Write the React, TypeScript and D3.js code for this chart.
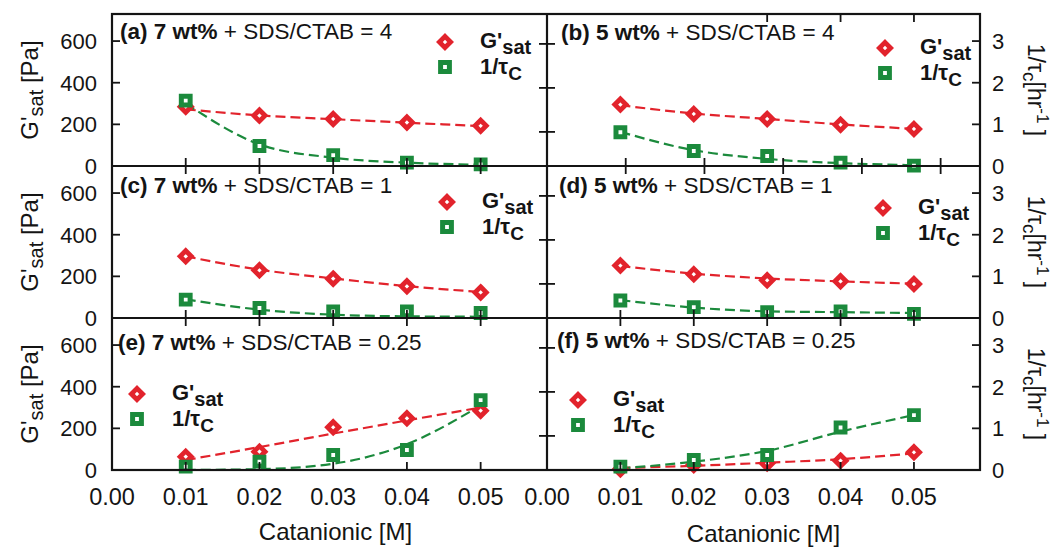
import React from "react";
import * as d3 from "d3";

// Catanionic concentration [M] for every measured point
const concentration = [0.01, 0.02, 0.03, 0.04, 0.05];
const xTickValues = [0, 0.01, 0.02, 0.03, 0.04, 0.05];
const xTickLabels = ["0.00", "0.01", "0.02", "0.03", "0.04", "0.05"];
const gsatTicks = [0, 200, 400, 600];
const rateTicks = [0, 1, 2, 3];
const innerTicks = [200, 400, 600];

// (a) 7 wt% + SDS/CTAB = 4
const gsatA = [285, 242, 226, 209, 193];
const rateA = [1.57, 0.48, 0.26, 0.08, 0.04];
const gsatFitA = [272, 243, 225, 208, 192];
const rateFitA = [1.5, 0.52, 0.2, 0.08, 0.03];

// (b) 5 wt% + SDS/CTAB = 4
const gsatB = [295, 250, 226, 198, 178];
const rateB = [0.81, 0.36, 0.24, 0.08, 0.01];
const gsatFitB = [292, 252, 226, 200, 178];
const rateFitB = [0.82, 0.38, 0.17, 0.07, 0.02];

// (c) 7 wt% + SDS/CTAB = 1
const gsatC = [296, 229, 189, 152, 123];
const rateC = [0.44, 0.24, 0.16, 0.16, 0.12];
const gsatFitC = [296, 232, 190, 153, 125];
const rateFitC = [0.45, 0.2, 0.08, 0.04, 0.03];

// (d) 5 wt% + SDS/CTAB = 1
const gsatD = [252, 210, 181, 176, 163];
const rateD = [0.42, 0.26, 0.14, 0.16, 0.1];
const gsatFitD = [250, 213, 190, 176, 165];
const rateFitD = [0.43, 0.25, 0.16, 0.14, 0.12];

// (e) 7 wt% + SDS/CTAB = 0.25
const gsatE = [64, 88, 205, 248, 285];
const rateE = [0.08, 0.2, 0.36, 0.48, 1.68];
const gsatFitE = [48, 110, 175, 238, 300];
const rateFitE = [0.0, 0.02, 0.15, 0.62, 1.55];

// (f) 5 wt% + SDS/CTAB = 0.25
const gsatF = [4, 24, 32, 45, 85];
const rateF = [0.08, 0.24, 0.36, 1.02, 1.32];
const gsatFitF = [10, 20, 35, 52, 80];
const rateFitF = [0.04, 0.2, 0.46, 0.92, 1.32];

const panels = [
  { label: "(a) 7 wt%", ratio: "4", col: 0, row: 0, gsat: gsatA, rate: rateA, gsatFit: gsatFitA, rateFit: rateFitA },
  { label: "(b) 5 wt%", ratio: "4", col: 1, row: 0, gsat: gsatB, rate: rateB, gsatFit: gsatFitB, rateFit: rateFitB },
  { label: "(c) 7 wt%", ratio: "1", col: 0, row: 1, gsat: gsatC, rate: rateC, gsatFit: gsatFitC, rateFit: rateFitC },
  { label: "(d) 5 wt%", ratio: "1", col: 1, row: 1, gsat: gsatD, rate: rateD, gsatFit: gsatFitD, rateFit: rateFitD },
  { label: "(e) 7 wt%", ratio: "0.25", col: 0, row: 2, gsat: gsatE, rate: rateE, gsatFit: gsatFitE, rateFit: rateFitE },
  { label: "(f) 5 wt%", ratio: "0.25", col: 1, row: 2, gsat: gsatF, rate: rateF, gsatFit: gsatFitF, rateFit: rateFitF },
];

// Title / legend placement inside each panel (offsets from the panel's top-left)
const panelLayout = [
  { titleDx: 8, titleDy: 25, legendDx: 333, legendDy: 28 },
  { titleDx: 14, titleDy: 26, legendDx: 338, legendDy: 34 },
  { titleDx: 8, titleDy: 27, legendDx: 335, legendDy: 36 },
  { titleDx: 12, titleDy: 27, legendDx: 336, legendDy: 42 },
  { titleDx: 6, titleDy: 32, legendDx: 25, legendDy: 76 },
  { titleDx: 10, titleDy: 30, legendDx: 31, legendDy: 82 },
];

const W = 1062;
const H = 548;
const LEFT = 112;
const MID = 547;
const RIGHT = 980;
const TOP = 14;
const PANEL_H = 152;
const X_MAX = 0.059;
const GSAT_MAX = 730;
const RATE_MAX = 3.65;

const RED = "#e2232c";
const GREEN = "#1b8a3c";
const INK = "#141414";
const FONT = "'Liberation Sans', Arial, Helvetica, sans-serif";
const TICK = 8;

const diamondPath = (s: number) => `M0,${-s}L${s},0L0,${s}L${-s},0Z`;
const squarePath = (s: number) => `M${-s},${-s}H${s}V${s}H${-s}Z`;

function Diamond({ x, y }: { x: number; y: number }) {
  return (
    <path
      d={diamondPath(5.6)}
      transform={`translate(${x},${y})`}
      fill="white"
      stroke={RED}
      strokeWidth={4.8}
      strokeLinejoin="miter"
    />
  );
}

function Square({ x, y }: { x: number; y: number }) {
  return (
    <path
      d={squarePath(4.4)}
      transform={`translate(${x},${y})`}
      fill="white"
      stroke={GREEN}
      strokeWidth={5}
    />
  );
}

export default function App() {
  const xScales = [
    d3.scaleLinear().domain([0, X_MAX]).range([LEFT, MID]),
    d3.scaleLinear().domain([0, X_MAX]).range([MID, RIGHT]),
  ];
  // the upper right panel carries a slightly stretched set of bottom ticks
  const xTicksB = d3.scaleLinear().domain([0, 0.055]).range([MID, RIGHT]);

  const rows = [0, 1, 2].map((r) => {
    const top = TOP + r * PANEL_H;
    const bottom = top + PANEL_H;
    return {
      top,
      bottom,
      yG: d3.scaleLinear().domain([0, GSAT_MAX]).range([bottom, top]),
      yR: d3.scaleLinear().domain([0, RATE_MAX]).range([bottom, top]),
      yInner: d3.scaleLinear().domain([45, 736]).range([bottom, top]),
    };
  });
  const bottomY = rows[2].bottom;

  const tickLines: React.ReactNode[] = [];
  let tickId = 0;
  const key = () => `t${tickId++}`;

  // x ticks on each horizontal boundary
  rows.forEach((row, r) => {
    [0, 1].forEach((c) => {
      const xs = xScales[c];
      const isLastRow = r === 2;
      xTickValues.slice(1).forEach((v) => {
        const useB = c === 1 && r === 0;
        const px = useB ? xTicksB(v) : xs(v);
        const y = row.bottom;
        tickLines.push(
          <line key={key()} x1={px} x2={px} y1={y - TICK} y2={isLastRow ? y : y + TICK} stroke={INK} strokeWidth={1.8} />
        );
      });
    });
  });
  // top ticks of the upper right panel
  [0.03, 0.04, 0.05].forEach((v) => {
    const px = xScales[1](v);
    tickLines.push(<line key={key()} x1={px} x2={px} y1={TOP} y2={TOP + TICK} stroke={INK} strokeWidth={1.8} />);
  });

  // y ticks: outer left, centre divider, outer right
  rows.forEach((row) => {
    gsatTicks.slice(1).forEach((v) => {
      const py = row.yG(v);
      tickLines.push(<line key={key()} x1={LEFT} x2={LEFT + TICK} y1={py} y2={py} stroke={INK} strokeWidth={1.8} />);
    });
    innerTicks.forEach((v) => {
      const py = row.yInner(v);
      tickLines.push(<line key={key()} x1={MID - TICK} x2={MID + TICK} y1={py} y2={py} stroke={INK} strokeWidth={1.8} />);
    });
    rateTicks.slice(1).forEach((v) => {
      const py = row.yR(v);
      tickLines.push(<line key={key()} x1={RIGHT - TICK} x2={RIGHT} y1={py} y2={py} stroke={INK} strokeWidth={1.8} />);
    });
  });

  return (
    <svg
      width={W}
      height={H}
      viewBox={`0 0 ${W} ${H}`}
      style={{ position: "absolute", left: 0, top: 0, background: "white", fontFamily: FONT }}
    >
      <rect width={W} height={H} fill="white" />

      {/* curves and markers */}
      {panels.map((p, i) => {
        const xs = xScales[p.col];
        const row = rows[p.row];
        const lineG = d3
          .line<number>()
          .x((_, j) => xs(concentration[j]))
          .y((d) => row.yG(d))
          .curve(d3.curveMonotoneX);
        const lineR = d3
          .line<number>()
          .x((_, j) => xs(concentration[j]))
          .y((d) => row.yR(d))
          .curve(d3.curveMonotoneX);
        return (
          <g key={`p${i}`}>
            <path d={lineG(p.gsatFit) ?? ""} fill="none" stroke={RED} strokeWidth={2.2} strokeDasharray="10 5" />
            <path d={lineR(p.rateFit) ?? ""} fill="none" stroke={GREEN} strokeWidth={2.2} strokeDasharray="10 5" />
            {p.gsat.map((v, j) => (
              <Diamond key={`d${j}`} x={xs(concentration[j])} y={row.yG(v)} />
            ))}
            {p.rate.map((v, j) => (
              <Square key={`s${j}`} x={xs(concentration[j])} y={row.yR(v)} />
            ))}
          </g>
        );
      })}

      {/* frame */}
      <g stroke={INK} strokeWidth={2.2} fill="none">
        <rect x={LEFT} y={TOP} width={RIGHT - LEFT} height={bottomY - TOP} />
        <line x1={MID} x2={MID} y1={TOP} y2={bottomY} />
        {rows.slice(0, 2).map((row, r) => (
          <line key={`h${r}`} x1={LEFT} x2={RIGHT} y1={row.bottom} y2={row.bottom} />
        ))}
      </g>
      {tickLines}

      {/* panel titles and legends */}
      {panels.map((p, i) => {
        const L = panelLayout[i];
        const x0 = p.col === 0 ? LEFT : MID;
        const y0 = rows[p.row].top;
        const lx = x0 + L.legendDx;
        const ly = y0 + L.legendDy;
        return (
          <g key={`l${i}`}>
            <text x={x0 + L.titleDx} y={y0 + L.titleDy} fontSize={22.5} fill={INK}>
              <tspan fontWeight="bold">{p.label}</tspan>
              <tspan>{" + SDS/CTAB = " + p.ratio}</tspan>
            </text>
            <Diamond x={lx} y={ly} />
            <Square x={lx} y={ly + 25} />
            <text x={lx + 35} y={ly + 6} fontSize={22} fontWeight="bold" fill={INK}>
              G'
              <tspan fontSize={20} dy={6}>sat</tspan>
            </text>
            <text x={lx + 35} y={ly + 32} fontSize={22} fontWeight="bold" fill={INK}>
              1/τ
              <tspan fontSize={19} dy={6}>C</tspan>
            </text>
          </g>
        );
      })}

      {/* left tick labels and axis titles */}
      {rows.map((row, r) => (
        <g key={`yl${r}`} fill={INK}>
          {gsatTicks.map((v) => (
            <text key={v} x={97} y={row.yG(v)} dy="0.36em" textAnchor="end" fontSize={22}>
              {v}
            </text>
          ))}
          <text
            transform={`translate(38,${(row.top + row.bottom) / 2}) rotate(-90)`}
            textAnchor="middle"
            fontSize={24}
          >
            G'
            <tspan fontSize={20} dy={5}>sat</tspan>
            <tspan dy={-5}>{" [Pa]"}</tspan>
          </text>
        </g>
      ))}

      {/* right tick labels and axis titles */}
      {rows.map((row, r) => (
        <g key={`yr${r}`} fill={INK}>
          {rateTicks.map((v) => (
            <text key={v} x={992} y={row.yR(v)} dy="0.36em" textAnchor="start" fontSize={22}>
              {v}
            </text>
          ))}
          <text
            transform={`translate(1028,${(row.top + row.bottom) / 2}) rotate(90)`}
            textAnchor="middle"
            fontSize={23}
          >
            1/τ
            <tspan fontSize={19} dy={5}>c</tspan>
            <tspan dy={-5}>[hr</tspan>
            <tspan fontSize={17} dy={-9}>-1</tspan>
            <tspan dy={9}>{" ]"}</tspan>
          </text>
        </g>
      ))}

      {/* x tick labels */}
      {[0, 1].map((c) => (
        <g key={`xl${c}`} fill={INK}>
          {xTickValues.map((v, j) => (
            <text key={j} x={xScales[c](v)} y={505} textAnchor="middle" fontSize={23.5}>
              {xTickLabels[j]}
            </text>
          ))}
        </g>
      ))}
      <text x={(LEFT + MID) / 2 + 6} y={540} textAnchor="middle" fontSize={24} fill={INK}>
        Catanionic [M]
      </text>
      <text x={(MID + RIGHT) / 2} y={542} textAnchor="middle" fontSize={24} fill={INK}>
        Catanionic [M]
      </text>
    </svg>
  );
}
